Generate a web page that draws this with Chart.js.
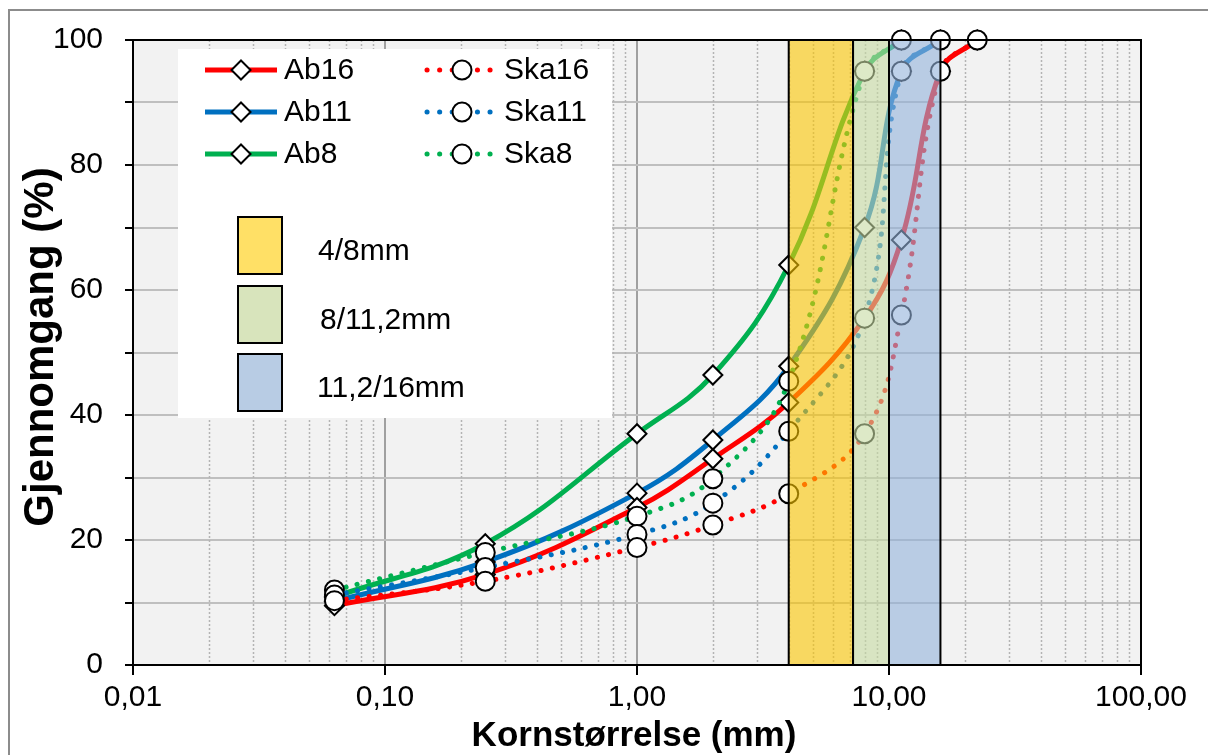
<!DOCTYPE html>
<html>
<head>
<meta charset="utf-8">
<script src="https://cdn.jsdelivr.net/npm/chart.js@4.4.1/dist/chart.umd.min.js"></script>
<style>
  html, body { margin: 0; padding: 0; background: #fff; }
  #wrap { width: 1208px; height: 755px; position: relative; }
</style>
</head>
<body>
<div id="wrap"><canvas id="gradingChart"></canvas></div>
<script>
// Sieve sizes (mm) and percent passing
const sieveSizes = [0.063, 0.25, 1, 2, 4, 8, 11.2, 16, 22.4];
const ab16  = [9.5, 14.5, 25.2, 33, 42, 55.5, 68, 95, 100];
const ab11  = [10.2, 16.5, 27.5, 36, 47.8, 70, 95, 100];
const ab8   = [10.9, 19.4, 37, 46.4, 64, 95, 100];
const ska16 = [10.3, 13.4, 18.8, 22.4, 27.4, 37, 56, 95, 100];
const ska11 = [11.2, 15.6, 20.9, 25.9, 37.4, 55.5, 95, 100];
const ska8  = [12, 18, 23.8, 29.8, 45.4, 95, 100];

// Fraction bands (mm)
const bandLabels = ['4/8mm', '8/11,2mm', '11,2/16mm'];
const bandFrom = [4, 7.2, 10];
const bandTo = [7.2, 10, 16];

const FONT = "'Liberation Sans', Arial, sans-serif";
const RED = '#ff0000', BLUE = '#0070c0', GREEN = '#00b050';

function toPoints(values) {
  return values.map((v, i) => ({ x: sieveSizes[i], y: v }));
}

function isDecade(v) {
  const l = Math.log10(v);
  return Math.abs(l - Math.round(l)) < 1e-6;
}

function abSet(label, values, color) {
  return {
    label, data: toPoints(values),
    borderColor: color, borderWidth: 5, tension: 0.4,
    pointStyle: 'rectRot', pointRadius: 9.5, pointHoverRadius: 9.5,
    pointBackgroundColor: '#fff', pointBorderColor: '#000', pointBorderWidth: 2,
    clip: false, order: 2
  };
}

function skaSet(label, values, color) {
  return {
    label, data: toPoints(values),
    borderColor: color, borderWidth: 5, tension: 0.4,
    borderDash: [0.1, 11.5], borderCapStyle: 'round',
    pointStyle: 'circle', pointRadius: 9.5, pointHoverRadius: 9.5,
    pointBackgroundColor: '#fff', pointBorderColor: '#000', pointBorderWidth: 2,
    clip: false, order: 1
  };
}

const bandFill = ['rgba(252,199,0,0.6)', 'rgba(199,219,162,0.6)', 'rgba(147,179,219,0.6)'];
const bandSwatch = ['#ffe066', '#d8e4bc', '#b8cce4'];

function diamond(ctx, x, y, r) {
  ctx.beginPath();
  ctx.moveTo(x, y - r); ctx.lineTo(x + r, y); ctx.lineTo(x, y + r); ctx.lineTo(x - r, y);
  ctx.closePath();
  ctx.fillStyle = '#fff'; ctx.fill();
  ctx.lineWidth = 2; ctx.strokeStyle = '#000'; ctx.stroke();
}

function circle(ctx, x, y, r) {
  ctx.beginPath();
  ctx.arc(x, y, r, 0, Math.PI * 2);
  ctx.fillStyle = '#fff'; ctx.fill();
  ctx.lineWidth = 2; ctx.strokeStyle = '#000'; ctx.stroke();
}

const sheetPlugin = {
  id: 'sheet',
  beforeDraw(chart) {
    const { ctx, chartArea: a } = chart;
    ctx.save();
    ctx.fillStyle = '#fff';
    ctx.fillRect(0, 0, chart.width, chart.height);
    ctx.strokeStyle = '#8c8c8c';
    ctx.lineWidth = 2;
    ctx.strokeRect(9, 10, chart.width + 20, chart.height + 20);
    ctx.fillStyle = '#f2f2f2';
    ctx.fillRect(a.left, a.top, a.right - a.left, a.bottom - a.top);
    ctx.restore();
  },
  beforeDatasetsDraw(chart) {
    // dotted minor gridlines between decades
    const { ctx, chartArea: a, scales: { x } } = chart;
    ctx.save();
    ctx.strokeStyle = '#b4b4b4';
    ctx.lineWidth = 1.5;
    ctx.setLineDash([2, 2]);
    for (let d = 0.01; d < 50; d *= 10) {
      for (let k = 2; k <= 9; k++) {
        const px = Math.round(x.getPixelForValue(d * k)) + 0.5;
        ctx.beginPath();
        ctx.moveTo(px, a.top);
        ctx.lineTo(px, a.bottom);
        ctx.stroke();
      }
    }
    ctx.restore();
  },
  afterDatasetsDraw(chart) {
    const { ctx, chartArea: a, scales: { x } } = chart;
    ctx.save();
    // fraction bands over the curves
    for (let i = 0; i < bandLabels.length; i++) {
      const x0 = x.getPixelForValue(bandFrom[i]);
      const x1 = x.getPixelForValue(bandTo[i]);
      ctx.fillStyle = bandFill[i];
      ctx.fillRect(x0, a.top, x1 - x0, a.bottom - a.top);
      ctx.strokeStyle = '#000';
      ctx.lineWidth = 2;
      ctx.strokeRect(x0, a.top, x1 - x0, a.bottom - a.top);
    }
    // plot frame
    ctx.strokeStyle = '#000';
    ctx.lineWidth = 2;
    ctx.strokeRect(a.left, a.top, a.right - a.left, a.bottom - a.top);

    // legend
    ctx.fillStyle = '#fff';
    ctx.fillRect(178, 49, 434, 369);
    ctx.font = '30px ' + FONT;
    ctx.textBaseline = 'middle';
    ctx.textAlign = 'left';
    const rowsY = [70, 112, 154];
    const colors = [RED, BLUE, GREEN];
    const abNames = ['Ab16', 'Ab11', 'Ab8'];
    const skaNames = ['Ska16', 'Ska11', 'Ska8'];
    for (let i = 0; i < 3; i++) {
      const y = rowsY[i];
      ctx.setLineDash([]);
      ctx.lineCap = 'butt';
      ctx.strokeStyle = colors[i];
      ctx.lineWidth = 5;
      ctx.beginPath(); ctx.moveTo(205, y); ctx.lineTo(277, y); ctx.stroke();
      diamond(ctx, 241, y, 9.5);
      ctx.fillStyle = '#000';
      ctx.fillText(abNames[i], 284, y + 1);

      ctx.strokeStyle = colors[i];
      ctx.lineWidth = 5;
      ctx.lineCap = 'round';
      ctx.setLineDash([0.1, 12.5]);
      ctx.beginPath(); ctx.moveTo(427, y); ctx.lineTo(492, y); ctx.stroke();
      ctx.setLineDash([]);
      ctx.lineCap = 'butt';
      circle(ctx, 462, y, 9.5);
      ctx.fillStyle = '#000';
      ctx.fillText(skaNames[i], 504, y + 1);
    }
    const swY = [217, 286, 354];
    const txtX = [318, 320, 317];
    for (let i = 0; i < 3; i++) {
      ctx.fillStyle = bandSwatch[i];
      ctx.fillRect(238, swY[i], 44, 57);
      ctx.strokeStyle = '#000';
      ctx.lineWidth = 2;
      ctx.strokeRect(238, swY[i], 44, 57);
      ctx.fillStyle = '#000';
      ctx.fillText(bandLabels[i], txtX[i], swY[i] + 35);
    }
    ctx.restore();
  },
  afterDraw(chart) {
    const { ctx } = chart;
    ctx.save();
    ctx.fillStyle = '#000';
    ctx.textAlign = 'center';
    ctx.textBaseline = 'alphabetic';
    ctx.font = 'bold 35px ' + FONT;
    ctx.fillText('Kornstørrelse (mm)', 634, 746);
    ctx.translate(53, 347);
    ctx.rotate(-Math.PI / 2);
    ctx.font = 'bold 42px ' + FONT;
    ctx.fillText('Gjennomgang (%)', 0, 0);
    ctx.restore();
  }
};

new Chart(document.getElementById('gradingChart'), {
  type: 'line',
  data: {
    datasets: [
      abSet('Ab16', ab16, RED),
      abSet('Ab11', ab11, BLUE),
      abSet('Ab8', ab8, GREEN),
      skaSet('Ska16', ska16, RED),
      skaSet('Ska11', ska11, BLUE),
      skaSet('Ska8', ska8, GREEN)
    ]
  },
  options: {
    responsive: true,
    maintainAspectRatio: false,
    animation: false,
    layout: { padding: { top: 36, right: 67, left: 0, bottom: 0 } },
    plugins: { legend: { display: false }, tooltip: { enabled: false } },
    scales: {
      x: {
        type: 'logarithmic',
        min: 0.01, max: 100,
        afterFit(s) { s.height = 90; },
        border: { color: '#000', width: 2 },
        grid: {
          lineWidth: 2,
          color: c => (c.tick && isDecade(c.tick.value)) ? '#a0a0a0' : 'rgba(0,0,0,0)',
          tickColor: c => (c.tick && isDecade(c.tick.value)) ? '#000' : 'rgba(0,0,0,0)',
          tickLength: 10, tickWidth: 2
        },
        ticks: {
          autoSkip: false, maxRotation: 0, padding: 5, color: '#000',
          font: { family: FONT, size: 30 },
          callback: v => isDecade(v) ? Number(v).toFixed(2).replace('.', ',') : ''
        }
      },
      y: {
        min: 0, max: 100,
        afterFit(s) { s.width = 133; },
        border: { color: '#000', width: 2 },
        grid: { color: '#bfbfbf', lineWidth: 2, tickColor: '#000', tickLength: 8, tickWidth: 2 },
        ticks: {
          stepSize: 10, padding: 22, color: '#000',
          font: { family: FONT, size: 30 },
          callback: v => (v % 20 === 0 ? v : '')
        }
      }
    }
  },
  plugins: [sheetPlugin]
});
</script>
</body>
</html>
